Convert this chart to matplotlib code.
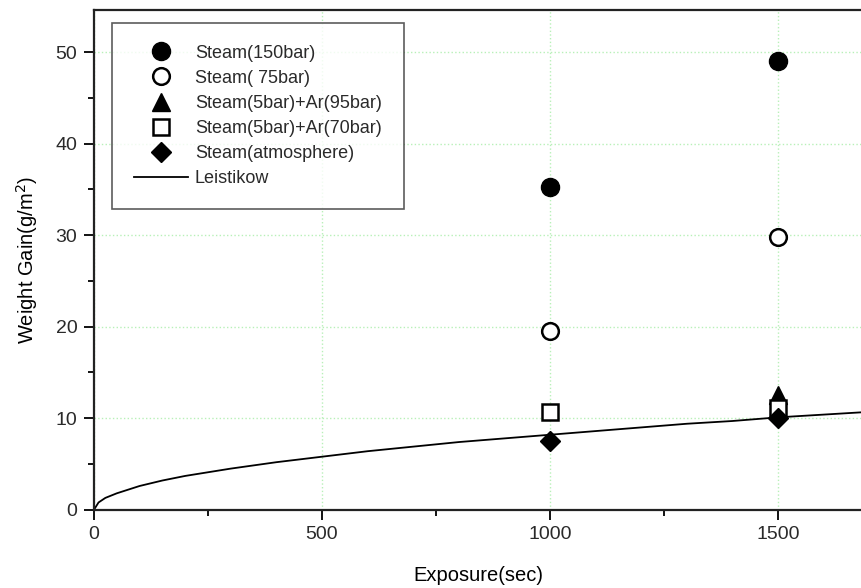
import numpy as np
import matplotlib
matplotlib.use('Agg')
import matplotlib.pyplot as plt
from matplotlib.ticker import MultipleLocator

plt.rcParams['font.family'] = ['Liberation Sans', 'DejaVu Sans']
plt.rcParams['text.color'] = '#2a2a2a'

# -- measured points
t_exp = [1000, 1500]
steam150 = [35.3, 49.0]
steam75 = [19.5, 29.8]
steam5_ar95 = [None, 12.5]
steam5_ar70 = [10.7, 11.1]
steam_atm = [7.5, 10.0]

# -- Leistikow correlation
t_leis = [0, 10, 25, 50, 100, 150, 200, 300, 400, 500, 600, 700, 800, 900,
          1000, 1100, 1200, 1300, 1400, 1500, 1600, 1700]
w_leis = [0, 0.8, 1.3, 1.8, 2.6, 3.2, 3.7, 4.5, 5.2, 5.8, 6.4, 6.9, 7.4, 7.8,
          8.2, 8.6, 9.0, 9.4, 9.7, 10.1, 10.4, 10.7]


def main():
    fig = plt.figure(figsize=(8.62, 5.88), dpi=100)
    ax = fig.add_axes([0.109, 0.133, 0.891, 0.85])

    ax.plot(t_exp, steam150, 'o', color='black', ms=13, label='Steam(150bar)')
    ax.plot(t_exp, steam75, 'o', mfc='white', mec='black', mew=1.8, ms=12,
            label='Steam( 75bar)')
    ax.plot(t_exp[1:], steam5_ar95[1:], '^', color='black', ms=13,
            label='Steam(5bar)+Ar(95bar)')
    ax.plot(t_exp, steam5_ar70, 's', mfc='white', mec='black', mew=1.8, ms=11,
            label='Steam(5bar)+Ar(70bar)')
    ax.plot(t_exp, steam_atm, 'D', color='black', ms=10,
            label='Steam(atmosphere)')
    ax.plot(t_leis, w_leis, '-', color='black', lw=1.3, label='Leistikow')

    ax.set_xlim(0, 1684)
    ax.set_ylim(0, 54.6)
    ax.xaxis.set_major_locator(MultipleLocator(500))
    ax.xaxis.set_minor_locator(MultipleLocator(250))
    ax.yaxis.set_major_locator(MultipleLocator(10))
    ax.yaxis.set_minor_locator(MultipleLocator(5))
    ax.tick_params(which='major', direction='out', length=7, width=1.3,
                   labelsize=14, labelcolor='#2a2a2a', pad=5)
    ax.tick_params(which='minor', direction='out', length=4, width=1.3)
    ax.spines['right'].set_visible(False)
    for s in ['left', 'bottom', 'top']:
        ax.spines[s].set_linewidth(1.6)
        ax.spines[s].set_color('#222222')

    ax.grid(True, which='major', color='#b8f0b8', linestyle=':', lw=1)
    ax.set_axisbelow(True)

    ax.set_xlabel('Exposure(sec)', fontsize=14.5, labelpad=16)
    ax.set_ylabel(r'Weight Gain(g/m$^2$)', fontsize=14.5, labelpad=11)

    leg = ax.legend(loc='upper left', bbox_to_anchor=(0.0234, 0.974),
                    fontsize=13, frameon=True, fancybox=False,
                    edgecolor='#333333', borderpad=1.2, handlelength=3.0,
                    handletextpad=0.4, labelspacing=0.45, borderaxespad=0)
    leg.get_frame().set_linewidth(1.2)

    fig.savefig('out.png', dpi=100)


main()
